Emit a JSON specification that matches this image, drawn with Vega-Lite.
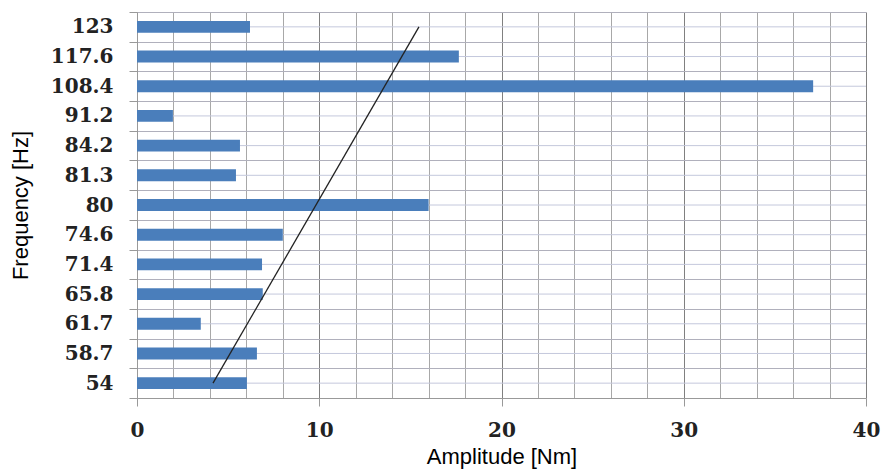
{
  "$schema": "https://vega.github.io/schema/vega-lite/v6.json",
  "width": 729,
  "height": 386,
  "autosize": {"type": "none"},
  "padding": {"left": 137, "top": 12, "right": 20, "bottom": 77},
  "background": "white",
  "config": {
    "view": {"stroke": null},
    "axis": {"labelFont": "DejaVu Serif", "labelFontWeight": "bold", "labelFontSize": 20, "labelColor": "#222", "titleFont": "Liberation Sans", "titleFontWeight": "normal", "titleFontSize": 22, "titleColor": "#000"}
  },
  "datasets": {
    "bars": [
      {"freq": "123", "amp": 6.2},
      {"freq": "117.6", "amp": 17.66},
      {"freq": "108.4", "amp": 37.1},
      {"freq": "91.2", "amp": 1.97},
      {"freq": "84.2", "amp": 5.65},
      {"freq": "81.3", "amp": 5.43},
      {"freq": "80", "amp": 16.0},
      {"freq": "74.6", "amp": 8.0},
      {"freq": "71.4", "amp": 6.86},
      {"freq": "65.8", "amp": 6.9},
      {"freq": "61.7", "amp": 3.5},
      {"freq": "58.7", "amp": 6.58},
      {"freq": "54", "amp": 6.03}
    ],
    "trend": [
      {"freq": "54", "amp": 4.17},
      {"freq": "123", "amp": 15.47}
    ]
  },
  "layer": [
    {
      "data": {"name": "bars"},
      "mark": {"type": "rule", "color": "#c4c8dc", "strokeWidth": 1},
      "encoding": {
        "y": {"field": "freq", "type": "nominal"}
      }
    },
    {
      "data": {"name": "bars"},
      "mark": {"type": "bar", "color": "#4a7ebb", "height": {"band": 0.4}},
      "encoding": {
        "y": {
          "field": "freq", "type": "nominal",
          "scale": {"domain": ["123", "117.6", "108.4", "91.2", "84.2", "81.3", "80", "74.6", "71.4", "65.8", "61.7", "58.7", "54"], "paddingInner": 0, "paddingOuter": 0},
          "axis": {"title": "Frequency [Hz]", "tickBand": "extent", "grid": true, "gridColor": "#b0b0bc", "gridWidth": 1, "domainColor": "#999", "tickColor": "#999", "tickSize": 8, "labelPadding": 16, "titlePadding": 18}
        },
        "x": {
          "field": "amp", "type": "quantitative",
          "scale": {"domain": [0, 40], "nice": false},
          "axis": {
            "title": "Amplitude [Nm]",
            "tickCount": 20,
            "labelExpr": "datum.value % 10 === 0 ? datum.label : ''",
            "labelOverlap": false,
            "labelBound": false,
            "grid": true,
            "gridColor": {"expr": "datum.value % 10 === 0 ? '#808080' : '#a8a8a8'"},
            "gridWidth": 1,
            "domainColor": "#999",
            "tickColor": "#999",
            "tickSize": 8,
            "tickOpacity": {"expr": "datum.value % 10 === 0 ? 1 : 0"},
            "labelPadding": 14,
            "labelFlush": false,
            "titlePadding": 6
          }
        }
      }
    },
    {
      "data": {"name": "trend"},
      "mark": {"type": "line", "color": "#222", "strokeWidth": 1.3},
      "encoding": {
        "y": {"field": "freq", "type": "nominal"},
        "x": {"field": "amp", "type": "quantitative"}
      }
    }
  ]
}
